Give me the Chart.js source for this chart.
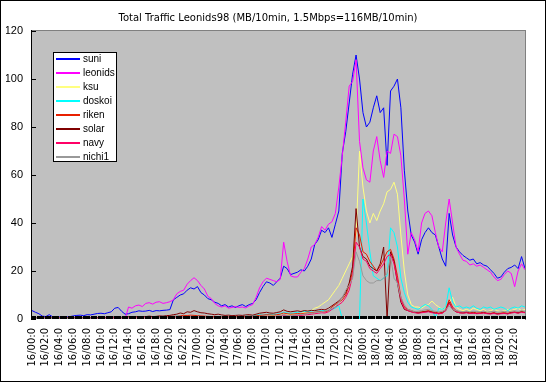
<!DOCTYPE html>
<html><head><meta charset="utf-8">
<script src="https://cdn.jsdelivr.net/npm/chart.js@4/dist/chart.umd.min.js"></script>
<style>html,body{margin:0;padding:0;background:#fff;}canvas{display:block;}</style>
</head><body><canvas id="c" width="546" height="382"></canvas>
<script>
const chartTitle = 'Total Traffic Leonids98 (MB/10min, 1.5Mbps=116MB/10min)';
const tickLabels = ['16/00:0','16/02:0','16/04:0','16/06:0','16/08:0','16/10:0','16/12:0','16/14:0','16/16:0','16/18:0','16/20:0','16/22:0',
  '17/00:0','17/02:0','17/04:0','17/06:0','17/08:0','17/10:0','17/12:0','17/14:0','17/16:0','17/18:0','17/20:0','17/22:0',
  '18/00:0','18/02:0','18/04:0','18/06:0','18/08:0','18/10:0','18/12:0','18/14:0','18/16:0','18/18:0','18/20:0','18/22:0'];
const yTicks = [0,20,40,60,80,100,120];
const seriesNames = ['suni','leonids','ksu','doskoi','riken','solar','navy','nichi1'];

const suni = [3.5,2.8,2.2,1.2,1.0,1.8,0.9,0.8,0.9,1.0,
 0.8,1.0,1.3,1.5,1.6,1.4,1.8,1.7,2.0,2.3,
 2.4,2.2,2.6,3.0,4.5,4.8,3.2,2.0,2.2,2.8,
 3.0,3.4,3.2,3.3,3.6,3.1,3.5,3.4,3.6,3.7,
 3.9,8.0,9.0,10.0,10.5,12.0,13.0,12.5,13.5,11.0,
 10.0,8.5,8.0,7.0,6.5,5.5,6.0,5.0,5.5,4.8,
 5.5,6.0,5.2,6.0,6.5,8.0,11.0,13.5,15.5,15.0,
 14.0,15.5,17.0,22.0,21.0,18.5,19.0,19.5,20.5,20.0,
 22.0,25.0,31.0,33.0,37.0,36.0,38.0,34.0,39.5,45.0,
 69,78,90,102,110,100,86,80,82,88,
 93,86,88,64,95,97,100,88,62,45,
 35,32,27,33,36,38,36,35,30,25,
 22,44,35,30,28,26.5,25.5,24.5,25,23,
 23.5,22.5,22,20.5,19,17,17.5,19.5,21,21.5,
 22.5,21,26,21];
const leonids = [0,0,0,0,0,0,0,0,0,0,
 0,0,0,0,0,0,0,0,0,0,
 0,0,0,0,0,0,0,0,5.0,4.5,
 5.5,5.8,5.2,6.5,6.8,6.2,7.0,7.2,6.5,6.8,
 7.2,8.0,10.5,11.5,12.0,14.5,16.0,17.2,16.0,14.0,
 12.5,9.5,8.5,6.5,5.5,5.0,5.5,4.5,4.8,5.2,
 4.8,5.0,4.6,5.5,6.0,9.0,13.0,15.5,17.0,16.5,
 16.0,15.5,16.5,32.0,24.0,18.0,17.5,17.5,19.5,21.0,
 25.0,30.0,31.0,34.0,38.5,37.0,39.5,40.5,44.0,55.0,
 68,82,97,99,108,74,63,58,57,70,
 76,66,59,70,69,77,76,68,50,27,
 36,33,28,40,44,45,43,36,30,28,
 40,50,40,30,27,24.5,24,22.5,23,22,
 22.5,21.5,20.5,19.5,17.5,16,16.5,18.5,20,19,
 13.5,20,23,20.5];
const ksu = [0.3,0.3,0.4,0.3,0.3,0.4,0.3,0.3,0.4,0.3,
 0.3,0.4,0.3,0.4,0.3,0.4,0.5,0.4,0.4,0.5,
 0.4,0.5,0.4,0.5,0.6,0.5,0.4,0.5,0.6,0.5,
 0.5,0.6,0.5,0.6,0.5,0.6,0.7,0.6,0.5,0.6,
 0.6,0.7,0.8,0.7,0.9,1.0,0.8,0.9,1.0,0.8,
 0.7,0.8,0.7,0.6,0.7,0.6,0.7,0.6,0.7,0.8,
 0.7,0.8,0.9,0.8,1.0,1.1,1.3,1.2,1.4,1.5,
 1.4,1.6,1.8,2.5,2.0,1.8,2.0,2.2,2.3,2.8,
 3.0,3.5,4.5,5.0,6.0,7.0,8.0,10.0,12.0,14.0,
 17,20,23,26,35,70,55,45,40,44,
 41,45,48,53,54,57,52,35,20,10,
 6,5,5,4.5,5.5,6,7.5,6,5,4,
 5,7,9,5,4,3.5,4,3.5,4.5,4,
 3.5,4,3,3.5,4,3.5,3,3.5,4,3.5,
 4,4.5,3.5,4];
const doskoi = [0.8,0.6,0.5,0.5,0.6,0.5,0.5,0.6,0.5,0.5,
 0.6,0.5,0.6,0.5,0.6,0.7,0.6,0.6,0.7,0.6,
 0.7,0.6,0.7,0.8,0.7,0.8,0.7,0.8,0.9,0.8,
 0.9,0.8,0.9,1.0,0.9,1.0,0.9,1.0,1.1,1.0,
 1.0,1.1,1.2,1.1,1.3,1.2,1.1,1.2,1.3,1.1,
 1.0,1.1,1.0,0.9,1.0,1.1,1.0,0.9,1.0,1.1,
 1.0,1.1,1.2,1.1,1.3,1.5,1.8,1.6,1.9,2.0,
 1.8,2.0,2.2,2.8,2.5,2.3,2.5,2.8,3.0,3.2,
 3.0,3.3,3.5,3.2,3.6,3.4,3.5,4.0,4.5,5.5,
 0,0,0,0,0,0,50,40,28,18,
 17,16,17,18,38,36,30,17,11,7,
 5,4.5,4,5,6,5.5,4,0.5,4.5,4,
 5,13,7,5,5.5,4.5,5,4.5,5.5,4.5,
 4,5,4.5,5,4,4.5,5,4.5,3.5,4.5,
 5,4.5,5.5,5];
const riken = [0.5,0.4,0.5,0.4,0.5,0.4,0.5,0.4,0.5,0.4,
 0.5,0.4,0.5,0.5,0.4,0.5,0.6,0.5,0.6,0.5,
 0.6,0.5,0.6,0.7,0.6,0.7,0.6,0.7,0.8,0.7,
 0.8,0.7,0.8,0.9,0.8,0.9,0.8,0.9,1.0,0.9,
 1.0,1.2,1.1,1.3,1.5,1.4,1.6,1.5,1.4,1.3,
 1.2,1.1,1.0,1.1,1.0,0.9,1.0,0.9,1.0,0.9,
 1.0,1.1,1.0,1.2,1.1,1.3,1.5,1.6,1.8,1.7,
 1.6,1.8,2.0,2.5,2.2,2.0,2.1,2.3,2.2,2.4,
 2.5,2.6,2.8,3.0,3.2,3.0,3.5,5.0,6.0,7.0,
 8,10,14,20,38,35,28,27,24,22,
 20,22,25,28,29,25,18,9,5,4,
 3.5,3,2.8,3,3.2,3.5,3,2.8,2.5,2.8,
 4,8,5,3.5,3,2.8,3,2.6,2.8,2.5,
 2.6,2.8,2.5,2.4,2.6,2.3,2.5,2.6,2.4,2.8,
 3,2.7,3.2,2.9];
const solar = [0.2,0.3,0.2,0.3,0.2,0.3,0.2,0.3,0.2,0.3,
 0.3,0.4,0.3,0.4,0.3,0.4,0.5,0.4,0.5,0.6,
 0.5,0.6,0.8,0.7,0.9,0.8,0.7,0.9,1.0,0.8,
 0.9,1.0,0.8,1.0,1.2,1.0,1.1,1.3,1.2,1.4,
 1.5,1.8,2.0,2.5,2.2,3.0,2.8,3.5,3.0,2.6,
 2.5,2.2,2.0,1.8,2.0,1.7,1.5,1.6,1.4,1.5,
 1.6,1.5,1.7,1.8,1.6,2.0,2.4,2.6,2.8,2.5,
 2.4,2.7,3.0,3.8,3.2,3.0,3.2,3.4,3.1,3.5,
 3.3,3.6,3.5,3.8,4.0,3.8,4.5,5.5,6.5,7.5,
 9,11,15,22,46,30,26,25,22,21,
 20,23,30,0,28,24,15,7,4,3.5,
 3,2.8,2.5,2.8,3,3.2,2.8,2.5,2.2,2.5,
 3.5,7,4,3,2.6,2.5,2.7,2.4,2.5,2.3,
 2.4,2.6,2.3,2.2,2.5,2.1,2.3,2.4,2.2,2.6,
 2.8,2.5,3,2.7];
const navy = [0.3,0.2,0.3,0.2,0.3,0.2,0.3,0.2,0.3,0.2,
 0.3,0.2,0.3,0.3,0.2,0.3,0.3,0.2,0.3,0.3,
 0.3,0.4,0.3,0.4,0.3,0.4,0.3,0.4,0.5,0.4,
 0.5,0.4,0.5,0.5,0.4,0.5,0.5,0.6,0.5,0.6,
 0.6,0.7,0.8,0.7,0.9,0.8,0.9,0.8,0.7,0.8,
 0.7,0.6,0.7,0.6,0.5,0.6,0.5,0.6,0.5,0.6,
 0.6,0.7,0.6,0.7,0.8,0.9,1.0,1.1,1.2,1.1,
 1.0,1.2,1.3,1.6,1.4,1.3,1.5,1.6,1.5,1.7,
 1.8,2.0,2.2,2.4,2.6,2.5,3.0,4.0,5.0,6.0,
 7,9,12,18,32,30,25,24,21,20,
 19,21,23,26,27,23,16,8,4.5,3.5,
 3,2.6,2.4,2.6,2.8,3,2.6,2.4,2.2,2.4,
 3.5,6.5,4.5,3,2.6,2.4,2.6,2.3,2.4,2.2,
 2.3,2.5,2.2,2.1,2.3,2.0,2.2,2.3,2.1,2.5,
 2.7,2.4,2.8,2.6];
const nichi1 = [0.2,0.2,0.2,0.2,0.2,0.2,0.2,0.2,0.2,0.2,
 0.2,0.2,0.2,0.3,0.2,0.3,0.2,0.3,0.3,0.3,
 0.3,0.3,0.4,0.3,0.4,0.3,0.4,0.4,0.5,0.4,
 0.4,0.5,0.4,0.5,0.5,0.4,0.5,0.6,0.5,0.6,
 0.6,0.7,0.8,0.7,0.8,0.9,0.8,0.9,0.8,0.7,
 0.7,0.6,0.6,0.5,0.6,0.5,0.6,0.5,0.6,0.6,
 0.6,0.7,0.7,0.8,0.8,0.9,1.0,1.1,1.2,1.2,
 1.1,1.3,1.4,1.8,1.5,1.4,1.6,1.8,1.9,2.0,
 2.2,2.4,2.6,2.8,3.0,3.3,3.8,4.5,5.0,7.0,
 9,12,14,17,28,24,18,16,15,15,
 16,16,17,19,26,17,15,9,6,4,
 3.5,3,3.2,3.5,3.8,4,3.5,3.2,3,3.2,
 3.8,5.5,4,3.5,3.2,3,3.3,3,3.2,3.1,
 3,3.3,2.9,3.1,3.2,2.8,3,3.2,2.9,3.3,
 3.4,3.1,3.5,3.2];

const seriesValues = [suni, leonids, ksu, doskoi, riken, solar, navy, nichi1];
const seriesColors = ['#0000ff','#ff00ff','#ffff80','#00ffff','#e82000','#800000','#ff0066','#999999'];

// half-hour categories derived from the 2-hour tick labels
const categories = tickLabels.flatMap(l => {
  const [d, hm] = l.split('/');
  const h = parseInt(hm, 10);
  const p = n => String(n).padStart(2, '0');
  return [`${d}/${p(h)}:0`, `${d}/${p(h)}:30`, `${d}/${p(h + 1)}:0`, `${d}/${p(h + 1)}:30`];
});

const decor = {
  id: 'decor',
  beforeDraw(chart) {
    const { ctx } = chart;
    ctx.save(); ctx.fillStyle = '#fff'; ctx.fillRect(0, 0, chart.width, chart.height); ctx.restore();
  },
  beforeDatasetsDraw(chart) {
    const { ctx, chartArea: a } = chart;
    ctx.save();
    ctx.fillStyle = '#c0c0c0';
    ctx.fillRect(a.left, a.top, a.right - a.left, a.bottom - a.top);
    ctx.restore();
  },
  afterDatasetsDraw(chart) {
    const { ctx, chartArea: a, scales } = chart;
    ctx.save();
    const L = Math.round(a.left), R = Math.round(a.right), T = Math.round(a.top), B = Math.round(a.bottom);
    ctx.fillStyle = '#808080';
    ctx.fillRect(L - 1, T - 1, R - L + 2, 1);
    ctx.fillRect(R, T - 1, 1, B - T + 2);
    ctx.fillStyle = '#000';
    ctx.fillRect(L - 1, T - 1, 1, B - T + 2);
    yTicks.forEach(v => {
      const y = Math.round(scales.y.getPixelForValue(v));
      ctx.fillRect(L, y, 4, 1);
    });
    const x = scales.x;
    const n = categories.length;
    const step = (x.getPixelForValue(n - 1) - x.getPixelForValue(0)) / (n - 1) / 3;
    for (let k = 0; k <= (n - 1) * 3; k++) {
      const px = Math.round(x.getPixelForValue(0) + k * step);
      ctx.fillRect(px, B - 3, 1, 3);
    }
    ctx.restore();
  },
  afterDraw(chart) {
    const { ctx, chartArea: a } = chart;
    ctx.save();
    // legend inside plot
    const L = Math.round(a.left), T = Math.round(a.top);
    const lx = L + 21, ly = T + 21;
    const lw = 64, rowH = 14, lh = 110;
    ctx.fillStyle = '#ffffff';
    ctx.fillRect(lx, ly, lw, lh);
    ctx.fillStyle = '#000000';
    ctx.fillRect(lx, ly, lw, 1);
    ctx.fillRect(lx, ly + lh - 1, lw, 1);
    ctx.fillRect(lx, ly, 1, lh);
    ctx.fillRect(lx + lw - 1, ly, 1, lh);
    ctx.font = '10px "Liberation Sans", Arial, sans-serif';
    ctx.textBaseline = 'alphabetic';
    ctx.textAlign = 'left';
    for (let i = 0; i < seriesNames.length; i++) {
      const cy = ly + 7 + i * rowH;
      ctx.fillStyle = seriesColors[i];
      ctx.fillRect(lx + 3, cy - 1, 24, 2);
      ctx.fillStyle = '#000000';
      ctx.fillText(seriesNames[i], lx + 30, cy + 3);
    }
    // outer frame
    ctx.fillStyle = '#000000';
    ctx.fillRect(0, 0, chart.width, 1);
    ctx.fillRect(0, chart.height - 1, chart.width, 1);
    ctx.fillRect(0, 0, 1, chart.height);
    ctx.fillRect(chart.width - 1, 0, 1, chart.height);
    ctx.restore();
  }
};

new Chart(document.getElementById('c'), {
  type: 'line',
  data: {
    labels: categories,
    datasets: seriesNames.map((name, i) => ({
      label: name,
      data: seriesValues[i],
      borderColor: seriesColors[i],
      backgroundColor: seriesColors[i],
      borderWidth: 1,
      pointRadius: 0,
      tension: 0,
      fill: false,
      order: seriesNames.length - i
    }))
  },
  options: {
    responsive: false,
    animation: false,
    devicePixelRatio: 1,
    layout: { padding: { left: 6, right: 16, top: 0, bottom: 0 } },
    plugins: {
      legend: { display: false },
      tooltip: { enabled: false },
      title: {
        display: true, text: chartTitle, color: '#000',
        font: { family: '"DejaVu Sans", sans-serif', size: 10, weight: 'normal' },
        padding: { top: 12, bottom: 7 }
      }
    },
    scales: {
      x: {
        type: 'category',
        offset: false,
        grid: { display: false, drawTicks: false },
        border: { display: false },
        afterFit: s => { s.height = 63; },
        ticks: {
          autoSkip: false, maxRotation: 90, minRotation: 90, padding: 9, color: '#000',
          font: { family: '"DejaVu Sans", sans-serif', size: 10 },
          callback: (v, idx) => (idx % 4 === 0 ? tickLabels[idx / 4] : '')
        }
      },
      y: {
        min: 0, max: 120,
        grid: { display: false, drawTicks: false },
        border: { display: false },
        afterFit: s => { s.width = 26; },
        afterBuildTicks: s => { s.ticks = yTicks.map(v => ({ value: v })); },
        ticks: { padding: 9, color: '#000', font: { family: '"Liberation Sans", Arial, sans-serif', size: 11 } }
      }
    }
  },
  plugins: [decor]
});
</script>
</body></html>
